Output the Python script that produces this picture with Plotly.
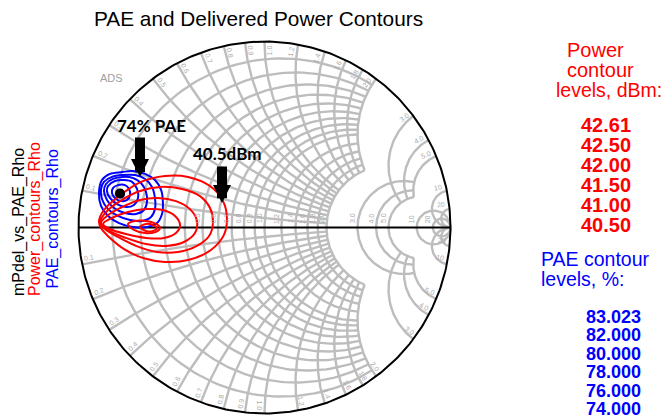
import numpy as np
import plotly.graph_objects as go

# ---------------------------------------------------------------- data
# Contour levels listed beside the chart
power_levels = ["42.61", "42.50", "42.00", "41.50", "41.00", "40.50"]
pae_levels = ["83.023", "82.000", "80.000", "78.000", "76.000", "74.000"]

# Delivered-power contours, reflection coefficient (real, imag)
pwr_4261_re = [-0.669, -0.637, -0.599, -0.578, -0.599, -0.637]
pwr_4261_im = [0.003, 0.019, 0.013, -0.003, -0.019, -0.019]
pwr_4250_re = [-0.734, -0.696, -0.637, -0.583, -0.562, -0.583, -0.642, -0.702]
pwr_4250_im = [0.019, 0.035, 0.035, 0.019, -0.003, -0.024, -0.030, -0.013]
pwr_4200_re = [-0.868, -0.820, -0.734, -0.637, -0.546, -0.481, -0.454, -0.476,
               -0.540, -0.637, -0.745, -0.831]
pwr_4200_im = [0.019, 0.051, 0.083, 0.099, 0.094, 0.062, 0.013, -0.030,
               -0.056, -0.056, -0.035, -0.008]
pwr_4150_re = [-0.879, -0.841, -0.766, -0.669, -0.573, -0.476, -0.401, -0.363,
               -0.374, -0.433, -0.530, -0.637, -0.745, -0.831]
pwr_4150_im = [0.024, 0.067, 0.110, 0.148, 0.159, 0.142, 0.099, 0.035,
               -0.030, -0.078, -0.099, -0.089, -0.056, -0.019]
pwr_4100_re = [-0.884, -0.852, -0.777, -0.669, -0.562, -0.444, -0.347, -0.293,
               -0.277, -0.298, -0.363, -0.465, -0.578, -0.691, -0.788, -0.858]
pwr_4100_im = [0.030, 0.083, 0.142, 0.196, 0.218, 0.207, 0.169, 0.105,
               0.030, -0.046, -0.099, -0.132, -0.132, -0.099, -0.051, -0.008]
pwr_4050_re = [-0.890, -0.863, -0.788, -0.664, -0.535, -0.411, -0.293, -0.223,
               -0.202, -0.218, -0.288, -0.411, -0.535, -0.653, -0.755, -0.836,
               -0.879]
pwr_4050_im = [0.035, 0.094, 0.164, 0.245, 0.277, 0.272, 0.223, 0.142,
               0.051, -0.040, -0.121, -0.175, -0.185, -0.164, -0.116, -0.051,
               -0.003]

# PAE contours, reflection coefficient (real, imag)
pae_83_re = [-0.793, -0.777, -0.761, -0.755, -0.766, -0.788]
pae_83_im = [0.191, 0.202, 0.196, 0.180, 0.164, 0.169]
pae_82_re = [-0.815, -0.788, -0.750, -0.728, -0.723, -0.739, -0.772, -0.804, -0.820]
pae_82_im = [0.212, 0.228, 0.228, 0.207, 0.175, 0.148, 0.142, 0.159, 0.185]
pae_80_re = [-0.841, -0.804, -0.755, -0.712, -0.685, -0.680, -0.702, -0.745,
             -0.793, -0.831, -0.847]
pae_80_im = [0.223, 0.250, 0.255, 0.245, 0.207, 0.159, 0.121, 0.110,
             0.126, 0.159, 0.196]
pae_78_re = [-0.852, -0.815, -0.761, -0.707, -0.664, -0.637, -0.632, -0.648,
             -0.691, -0.750, -0.809, -0.847, -0.863]
pae_78_im = [0.234, 0.261, 0.272, 0.266, 0.239, 0.191, 0.137, 0.094,
             0.073, 0.078, 0.105, 0.148, 0.196]
pae_76_re = [-0.863, -0.820, -0.761, -0.696, -0.642, -0.605, -0.589, -0.589,
             -0.610, -0.659, -0.723, -0.788, -0.841, -0.874, -0.879]
pae_76_im = [0.245, 0.272, 0.282, 0.282, 0.261, 0.218, 0.159, 0.099,
             0.056, 0.035, 0.040, 0.062, 0.099, 0.153, 0.207]
pae_74_re = [-0.874, -0.831, -0.766, -0.707, -0.642, -0.589, -0.556, -0.546,
             -0.551, -0.578, -0.632, -0.707, -0.782, -0.841, -0.879, -0.890]
pae_74_im = [0.255, 0.288, 0.298, 0.304, 0.288, 0.255, 0.202, 0.132,
             0.073, 0.024, 0.003, 0.003, 0.024, 0.062, 0.116, 0.185]

# Delivered power vs. PAE optimum (single point)
mpdel_re = [-0.777]
mpdel_im = [0.183]

# Smith grid values (resistance circles and reactance arcs share them)
grid_fine = [0.1, 0.2, 0.3, 0.4, 0.5, 0.6, 0.7, 0.8, 0.9, 1.0,
             1.2, 1.4, 1.6, 1.8, 2.0]
grid_mid = [3.0, 4.0, 5.0]
grid_coarse = [10.0, 20.0]
axis_labels = [0.5, 0.6, 0.7, 0.8, 0.9, 1.0, 1.2, 1.4, 1.6, 1.8, 2.0,
               3.0, 4.0, 5.0, 10.0, 20.0]

# ---------------------------------------------------------------- layout
W, H = 663, 418
CX, CY, RAD = 264.5, 227.5, 186.0      # unit circle centre / radius in px
FONT = "Liberation Sans, Arial, sans-serif"
GRID = "#bdbdbd"
RED, BLUE = "#ff0000", "#0000ff"


def P(px, py):
    """pixel position -> chart (reflection coefficient) coordinates"""
    return (px - CX) / RAD, (CY - py) / RAD


def gamma(z):
    return (z - 1) / (z + 1)


def r_arc(r, xmax, n=140):
    c, rad = r / (1 + r), 1 / (1 + r)
    g = gamma(complex(r, xmax))
    a = np.arctan2(g.imag, g.real - c)
    t = np.linspace(a, 2 * np.pi - a, n)
    return c + rad * np.cos(t), rad * np.sin(t)


def x_arc(x, rmax, n=90):
    cy, rad = 1 / x, abs(1 / x)
    g0, g1 = gamma(complex(0, x)), gamma(complex(rmax, x))
    a0 = np.arctan2(g0.imag - cy, g0.real - 1)
    a1 = np.arctan2(g1.imag - cy, g1.real - 1)
    d = (a1 - a0 + np.pi) % (2 * np.pi) - np.pi
    t = a0 + d * np.linspace(0, 1, n)
    return 1 + rad * np.cos(t), cy + rad * np.sin(t)


gx, gy = [], []
for vals, lim in ((grid_fine, 2.0), (grid_mid, 5.0), (grid_coarse, 1e3)):
    for v in vals:
        xs, ys = r_arc(v, lim)
        gx += list(xs) + [None]
        gy += list(ys) + [None]
        for s in (1, -1):
            xs, ys = x_arc(s * v, lim)
            gx += list(xs) + [None]
            gy += list(ys) + [None]

fig = go.Figure()
fig.add_trace(go.Scatter(x=gx, y=gy, mode="lines", hoverinfo="skip",
                         line=dict(color=GRID, width=2.4), showlegend=False))

# outer boundary and real axis
t = np.linspace(0, 2 * np.pi, 400)
fig.add_trace(go.Scatter(x=np.cos(t), y=np.sin(t), mode="lines", hoverinfo="skip",
                         line=dict(color="black", width=2), showlegend=False))
fig.add_trace(go.Scatter(x=[-1, 1], y=[0, 0], mode="lines", hoverinfo="skip",
                         line=dict(color="black", width=2), showlegend=False))


def closed(a):
    return list(a) + [a[0]]


pae_sets = [(pae_83_re, pae_83_im), (pae_82_re, pae_82_im), (pae_80_re, pae_80_im),
            (pae_78_re, pae_78_im), (pae_76_re, pae_76_im), (pae_74_re, pae_74_im)]
pwr_sets = [(pwr_4261_re, pwr_4261_im), (pwr_4250_re, pwr_4250_im),
            (pwr_4200_re, pwr_4200_im), (pwr_4150_re, pwr_4150_im),
            (pwr_4100_re, pwr_4100_im), (pwr_4050_re, pwr_4050_im)]

for (re, im), lev in zip(pae_sets, pae_levels):
    fig.add_trace(go.Scatter(x=closed(re), y=closed(im), mode="lines", name=lev,
                             line=dict(color=BLUE, width=2, shape="spline", smoothing=1.0),
                             showlegend=False))
for (re, im), lev in zip(pwr_sets, power_levels):
    fig.add_trace(go.Scatter(x=closed(re), y=closed(im), mode="lines", name=lev,
                             line=dict(color=RED, width=2, shape="spline", smoothing=1.0),
                             showlegend=False))
fig.add_trace(go.Scatter(x=mpdel_re, y=mpdel_im, mode="markers",
                         marker=dict(color="black", size=10), showlegend=False))

ann = []


def text(px, py, s, size, color="black", bold=False, xanchor="center",
         yanchor="middle", angle=0, family=FONT):
    x, y = P(px, py)
    ann.append(dict(x=x, y=y, xref="x", yref="y", text=f"<b>{s}</b>" if bold else s,
                    showarrow=False, xanchor=xanchor, yanchor=yanchor, textangle=angle,
                    borderpad=0, font=dict(family=family, size=size, color=color)))


# grid value labels on the real axis
for v in axis_labels:
    g = gamma(complex(v, 0)).real
    lab = f"{v:.1f}" if v < 10 else f"{v:.0f}"
    ann.append(dict(x=g, y=0, xref="x", yref="y", text=lab, showarrow=False,
                    xshift=-5, yshift=2, xanchor="center", yanchor="bottom",
                    textangle=-90, font=dict(family=FONT, size=7, color="#aaaaaa")))

# reactance labels around the rim
for v in grid_fine + grid_mid + grid_coarse:
    lab = f"{v:.1f}" if v < 10 else f"{v:.0f}"
    for s in (1, -1):
        g = gamma(complex(0, s * v))
        th = np.degrees(np.arctan2(g.imag, g.real))
        off = 1.6 if abs(th) < 90 else -1.6
        th2 = np.radians(th + off)
        ang = -th if abs(th) <= 90 else 180 - th
        ang = (ang + 180) % 360 - 180
        ann.append(dict(x=0.955 * np.cos(th2), y=0.955 * np.sin(th2), xref="x", yref="y",
                        text=lab, showarrow=False, textangle=ang,
                        font=dict(family=FONT, size=7, color="#aaaaaa")))

# title and side texts
text(258, 18, "PAE and Delivered Power Contours", 20.8)
text(111.5, 77.5, "ADS", 11, color="#a0a0a0")

text(19, 297, "mPdel_vs_PAE_Rho", 16, yanchor="bottom", angle=-90)
text(35, 297, "Power_contours_Rho", 16, color=RED, yanchor="bottom", angle=-90)
text(52, 290, "PAE_contours_Rho", 16, color=BLUE, yanchor="bottom", angle=-90)

text(566, 50, "Power", 20, color=RED, xanchor="left")
text(566, 70, "contour", 20, color=RED, xanchor="left")
text(555, 90, "levels, dBm:", 19.5, color=RED, xanchor="left")
for i, lev in enumerate(power_levels):
    text(580, 125 + 20 * i, lev, 20, color=RED, bold=True, xanchor="left")

text(540, 259, "PAE contour", 19.5, color=BLUE, xanchor="left")
text(540, 279, "levels, %:", 19.5, color=BLUE, xanchor="left")
for i, lev in enumerate(pae_levels):
    text(585, 317 + 18.4 * i, lev, 18, color=BLUE, bold=True, xanchor="left")

# call-outs with block arrows
text(151, 125, "74% PAE", 17, bold=True, family="Lato, sans-serif")
text(226.5, 153, "40.5dBm", 17, bold=True, family="Lato, sans-serif")
for tip, tail in (((140, 177), (140, 136)), ((222, 203), (222, 165))):
    x, y = P(*tip)
    ann.append(dict(x=x, y=y, xref="x", yref="y", text="", showarrow=True,
                    ax=0, ay=tail[1] - tip[1], arrowhead=2, arrowsize=0.36,
                    arrowwidth=10, arrowcolor="black", standoff=0))

fig.update_layout(
    width=W, height=H, margin=dict(l=0, r=0, t=0, b=0),
    paper_bgcolor="white", plot_bgcolor="white", showlegend=False,
    xaxis=dict(range=[-CX / RAD, (W - CX) / RAD], visible=False, fixedrange=True),
    yaxis=dict(range=[(CY - H) / RAD, CY / RAD], visible=False, fixedrange=True),
    annotations=ann,
)
fig.write_html("out.html")
